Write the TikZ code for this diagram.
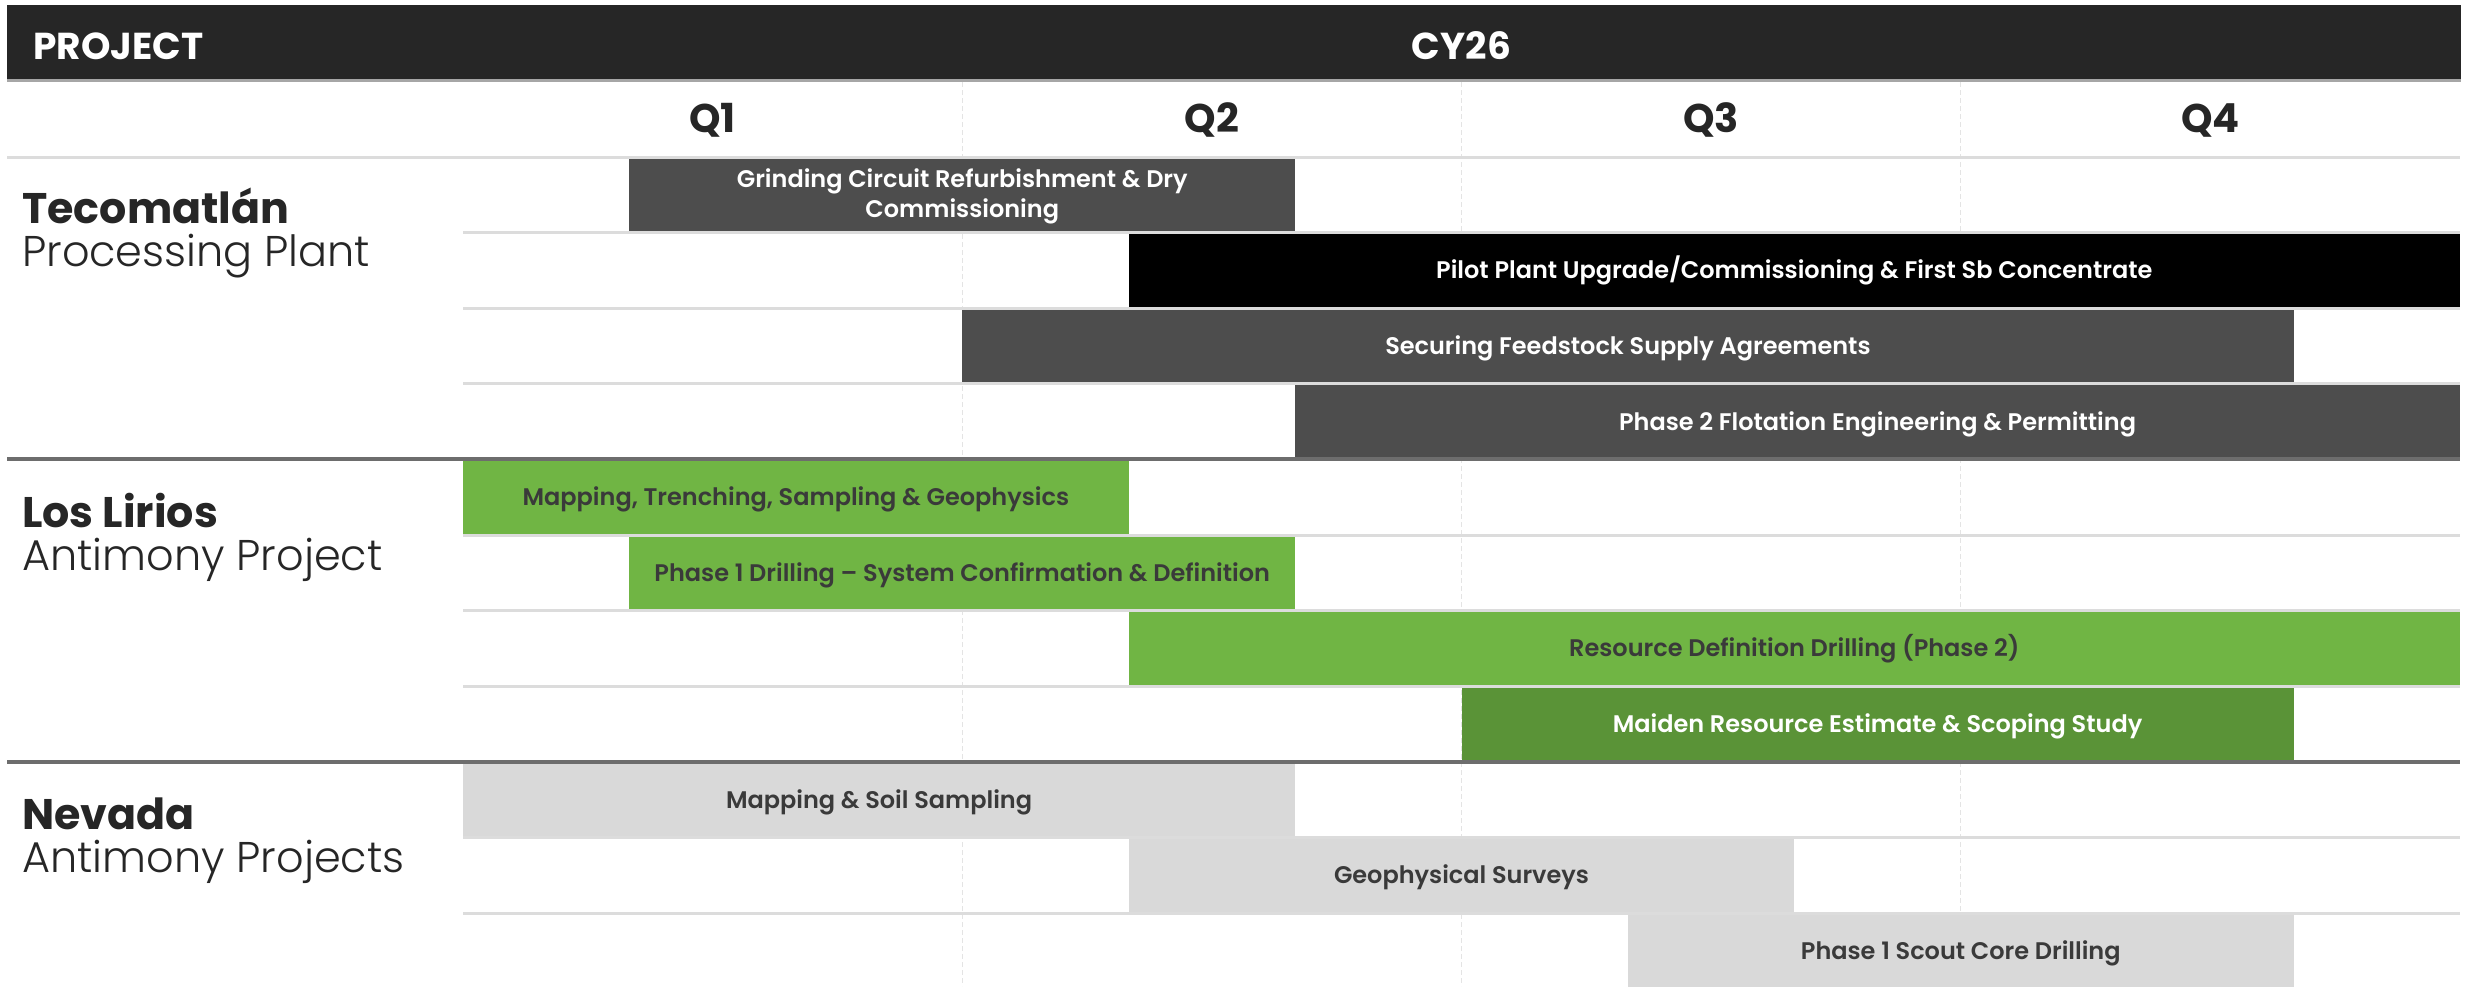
\documentclass[tikz,border=0pt]{standalone}
\usepackage{fontspec}
\setmainfont{Poppins}
\IfFontExistsTF{Poppins SemiBold}{\newfontfamily\semib{Poppins SemiBold}}{\newcommand\semib{\bfseries}}
\IfFontExistsTF{Poppins Light}{\newfontfamily\plight{Poppins Light}}{\newfontfamily\plight{Poppins}}
\definecolor{hdrc}{HTML}{262626}
\definecolor{darkbar}{HTML}{4D4D4D}
\definecolor{greenbar}{HTML}{70B544}
\definecolor{dgreenbar}{HTML}{5A9337}
\definecolor{lightbar}{HTML}{D9D9D9}
\definecolor{bartext}{HTML}{3A3A3A}
\definecolor{rowline}{HTML}{DCDCDC}
\definecolor{secline}{HTML}{6D6D6D}
\definecolor{gridline}{HTML}{E4E4E4}
\definecolor{labeltext}{HTML}{262626}
\tikzset{
  barbase/.style={rectangle, inner sep=0pt, outer sep=0pt, minimum height=75.6pt},
  bartxt/.style={inner sep=0pt, outer sep=0pt, anchor=base, align=center, font=\semib\fontsize{24}{30}\selectfont},
  darkb/.style={fill=darkbar},
  blackb/.style={fill=black},
  greenb/.style={fill=greenbar},
  dgreenb/.style={fill=dgreenbar},
  lightb/.style={fill=lightbar},
  wtxt/.style={text=white},
  dtxt/.style={text=bartext},
  hdrtext/.style={inner sep=0pt, text=white, font=\bfseries\fontsize{37.5}{42}\selectfont},
  qtext/.style={inner sep=0pt, text=labeltext, font=\bfseries\fontsize{40}{44}\selectfont},
  projbold/.style={inner sep=0pt, anchor=base west, text=labeltext, font=\bfseries\fontsize{42.8}{48}\selectfont},
  projlight/.style={inner sep=0pt, anchor=base west, text=labeltext, font=\plight\fontsize{43}{48}\selectfont},
  rowsep/.style={draw=rowline, line width=3pt},
  secsep/.style={draw=secline, line width=4pt},
  qgrid/.style={draw=gridline, line width=1.2pt, dash pattern=on 5pt off 3pt},
}
% name, row, start month, end month, fill style, text style, text, last-baseline offset
\newcommand\ganttbar[8]{%
  \pgfmathsetmacro\bx{463+(#3+#4)/2*166.4167}%
  \pgfmathsetmacro\bw{(#4-#3)*166.4167}%
  \pgfmathsetmacro\by{157+(#2+0.5)*75.6}%
  \pgfmathsetmacro\bt{\by+8.5+#8}%
  \node[barbase,#5,minimum width=\bw pt] (#1) at (\bx,\by) {};%
  \node[bartxt,#6] (#1-t) at (\bx,\bt) {#7};%
}
\begin{document}
\begin{tikzpicture}[x=1pt,y=-1pt]
\useasboundingbox (0,0) rectangle (2468,986);
\fill[white] (0,0) rectangle (2468,986);
% quarter grid
\foreach \q in {1,2,3} {
  \pgfmathsetmacro\gx{463+\q*499.25}
  \draw[qgrid] (\gx,82) -- (\gx,986);
}
% header
\fill[hdrc] (7,5) rectangle (2461,79);
\draw[draw=gray!70, line width=2.5pt] (7,80.5) -- (2461,80.5);
\node[hdrtext, anchor=base west] (project) at (33,59) {PROJECT};
\node[hdrtext, anchor=base] (cy) at (1461.5,59) {CY26};
% quarter labels
\node[qtext, anchor=base] (q1) at (712.6,132) {Q1};
\node[qtext, anchor=base] (q2) at (1211.9,132) {Q2};
\node[qtext, anchor=base] (q3) at (1711.1,132) {Q3};
\node[qtext, anchor=base] (q4) at (2210.4,132) {Q4};
% bars
\ganttbar{t1}{0}{1}{5}{darkb}{wtxt}{Grinding Circuit Refurbishment \& Dry\\Commissioning}{14.5}
\ganttbar{t2}{1}{4}{12}{blackb}{wtxt}{Pilot Plant Upgrade/Commissioning \& First Sb Concentrate}{0}
\ganttbar{t3}{2}{3}{11}{darkb}{wtxt}{Securing Feedstock Supply Agreements}{0}
\ganttbar{t4}{3}{5}{12}{darkb}{wtxt}{Phase 2 Flotation Engineering \& Permitting}{0}
\ganttbar{l1}{4}{0}{4}{greenb}{dtxt}{Mapping, Trenching, Sampling \& Geophysics}{0}
\ganttbar{l2}{5}{1}{5}{greenb}{dtxt}{Phase 1 Drilling – System Confirmation \& Definition}{0}
\ganttbar{l3}{6}{4}{12}{greenb}{dtxt}{Resource Definition Drilling (Phase 2)}{0}
\ganttbar{l4}{7}{6}{11}{dgreenb}{wtxt}{Maiden Resource Estimate \& Scoping Study}{0}
\ganttbar{n1}{8}{0}{5}{lightb}{dtxt}{Mapping \& Soil Sampling}{0}
\ganttbar{n2}{9}{4}{8}{lightb}{dtxt}{Geophysical Surveys}{0}
\ganttbar{n3}{10}{7}{11}{lightb}{dtxt}{Phase 1 Scout Core Drilling}{0}
% row separators
\draw[rowsep] (7,157) -- (2460,157);
\foreach \r in {1,2,3,5,6,7,9,10} {
  \pgfmathsetmacro\ry{157+\r*75.6}
  \draw[rowsep] (463,\ry) -- (2460,\ry);
}
\draw[secsep] (7,459.4) -- (2460,459.4);
\draw[secsep] (7,761.8) -- (2460,761.8);
% project labels
\node[projbold] (tecoA) at (22,223) {Tecomatlán};
\node[projlight] (tecoB) at (22,266) {Processing Plant};
\node[projbold] (losA) at (22,527) {Los Lirios};
\node[projlight] (losB) at (22,570) {Antimony Project};
\node[projbold] (nevA) at (22,829) {Nevada};
\node[projlight] (nevB) at (22,872) {Antimony Projects};
\end{tikzpicture}
\end{document}
